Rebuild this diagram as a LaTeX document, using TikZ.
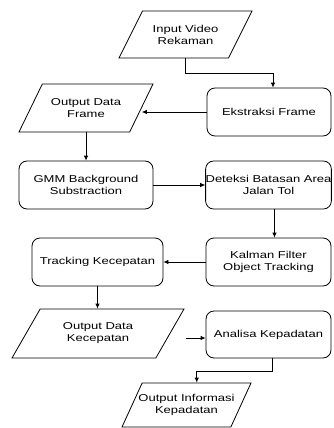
\documentclass[tikz,border=0pt]{standalone}
\usepackage{fontspec}
\setmainfont{Liberation Sans}[FakeStretch=1.3]
\usetikzlibrary{arrows.meta,shapes.geometric,calc}

\begin{document}
\begin{tikzpicture}[x=1pt, y=-1pt, >={Latex[length=5pt,width=4.5pt]},
  line width=0.8pt, font=\fontsize{10}{12}\selectfont,
  proc/.style={draw, rounded corners=8pt, minimum width=125pt, minimum height=48pt,
    inner sep=0pt, align=center},
  io/.style={draw, trapezium, trapezium left angle=61, trapezium right angle=119,
    trapezium stretches body, inner xsep=-12pt, inner ysep=11.5pt,
    minimum width=133pt, minimum height=47pt, align=center}]
  \useasboundingbox (0,0) rectangle (334,428);

  % left column and right column of the flow
  \node[io] (input) at (185.5,34.5) {Input Video\\Rekaman};
  \node[proc, minimum width=124pt] (ekstraksi) at (269,112) {Ekstraksi Frame};
  \node[io, minimum width=134pt, minimum height=48pt] (odf) at (86,108) {Output Data\\Frame};
  \node[proc, minimum width=134pt] (gmm) at (86,185) {GMM Background\\Substraction};
  \node[proc] (deteksi) at (268.5,185) {Deteksi Batasan Area\\Jalan Tol};
  \node[proc] (kalman) at (268.5,262) {Kalman Filter\\Object Tracking};
  \node[proc, minimum width=131pt] (tracking) at (97.5,262) {Tracking Kecepatan};
  \node[io, trapezium left angle=58, trapezium right angle=122, inner ysep=12pt,
    minimum width=172pt, minimum height=49pt] (odk) at (98,333.5) {Output Data\\Kecepatan};
  \node[proc, minimum height=47pt] (analisa) at (268.5,334.5) {Analisa Kepadatan};
  \node[io, trapezium left angle=64, trapezium right angle=116, inner ysep=10pt,
    minimum width=129pt, minimum height=44pt] (odi) at (186.5,405) {Output Informasi\\Kepadatan};
  \coordinate (free) at (186,338);

  % connectors
  \draw[->] (input.center |- input.south) -- ++(0,15) -| ([xshift=4pt]ekstraksi.north);
  \draw[->] (ekstraksi.west) -- (ekstraksi.west -| odf.east);
  \draw[->] (odf.center |- odf.south) -- (gmm.north);
  \draw[->] (gmm.east) -- (deteksi.west);
  \draw[->] ([xshift=6pt]deteksi.south) -- ([xshift=6pt]kalman.north);
  \draw[->] (kalman.west) -- (tracking.east);
  \draw[->] (tracking.south) -- (tracking.south |- odk.top side);
  \draw[->] (free) -- (free -| analisa.west);
  \draw[->] ([xshift=4pt]analisa.south) -- ++(0,13) -| (odi.top side);
\end{tikzpicture}
\end{document}
